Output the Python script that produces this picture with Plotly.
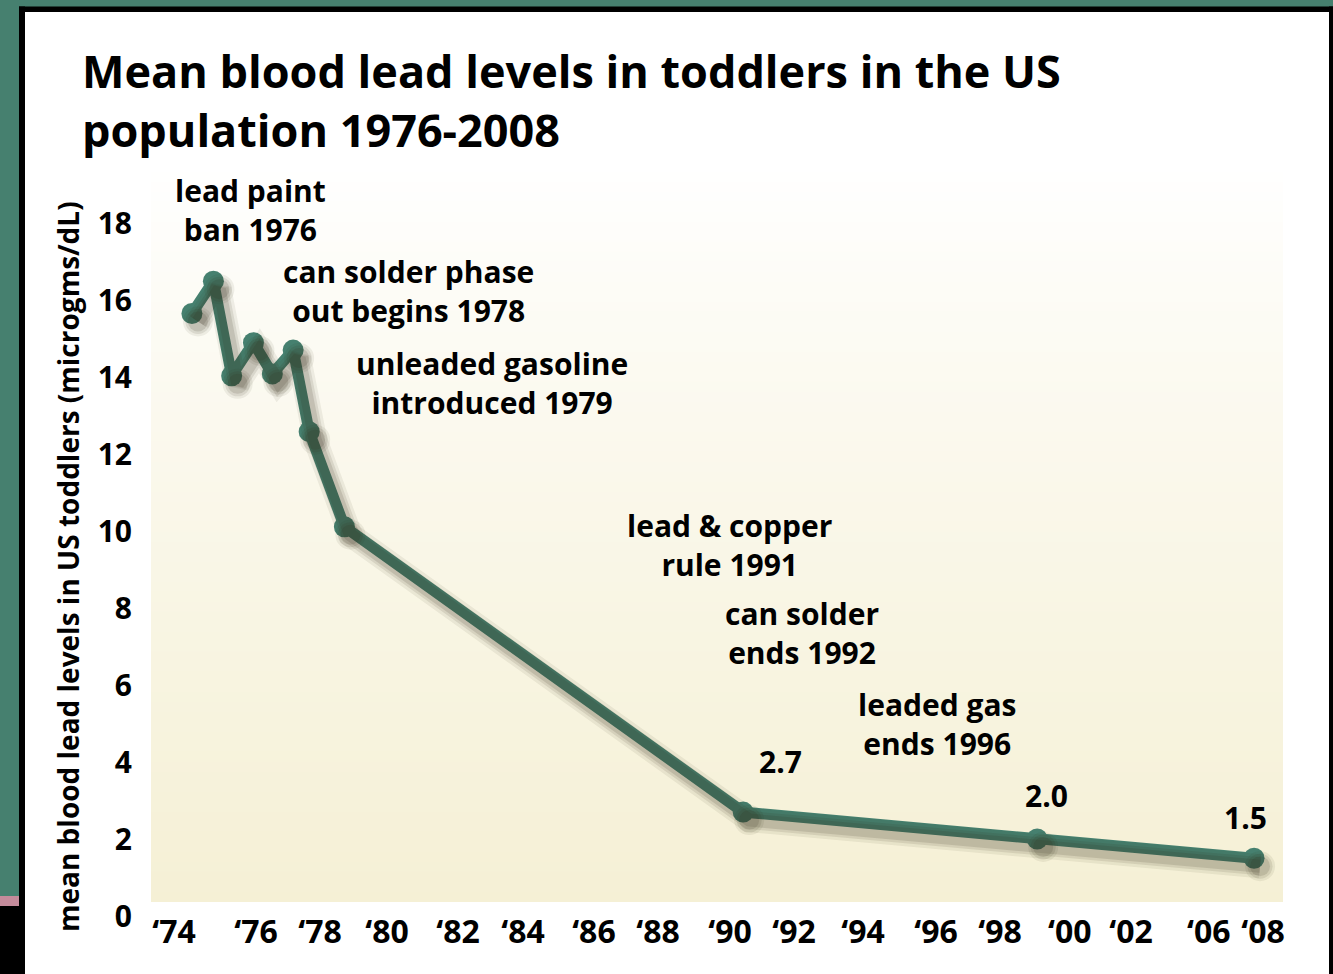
import plotly.graph_objects as go

# ---- data -------------------------------------------------------------
years = [1974.56, 1975.23, 1975.80, 1976.48, 1977.07, 1977.72, 1978.22,
         1979.32, 1991.77, 2000.95, 2007.72]
blood_lead = [15.65, 16.49, 14.03, 14.89, 14.08, 14.70, 12.58, 10.11,
              2.7, 2.0, 1.5]

tick_text = ["‘74", "‘76", "‘78", "‘80", "‘82", "‘84", "‘86", "‘88", "‘90",
             "‘92", "‘94", "‘96", "‘98", "‘00", "‘02", "‘06", "‘08"]
tick_pos = [1974.00, 1976.56, 1978.56, 1980.65, 1982.87, 1984.90, 1987.11,
            1989.11, 1991.36, 1993.36, 1995.51, 1997.79, 1999.79, 2001.97,
            2003.88, 2006.31, 2008.00]
y_ticks = [0, 2, 4, 6, 8, 10, 12, 14, 16, 18]

events = [
    ("lead paint<br>ban 1976", 250, 210),
    ("can solder phase<br>out begins 1978", 408, 291),
    ("unleaded gasoline<br>introduced 1979", 492, 383),
    ("lead &amp; copper<br>rule 1991", 729, 545),
    ("can solder<br>ends 1992", 802, 633),
    ("leaded gas<br>ends 1996", 937, 724),
]
value_labels = ["2.7", "2.0", "1.5"]

# ---- layout geometry --------------------------------------------------
W, H = 1333, 974
ML, MR, MT, MB = 151, 50, 180, 58
PW, PH = W - ML - MR, H - MT - MB
X0, X1 = 1973.282, 2008.624
Y0, Y1 = 0.0, PH / 38.5
KX = PW / (X1 - X0)
KY = PH / (Y1 - Y0)


def px(x):
    return (x - ML) / PW


def py(y):
    return (H - MB - y) / PH


TEAL = "#46806F"
FONT = "Open Sans"

fig = go.Figure()

# soft drop shadow under the line (same data on offset hidden axes)
dx, dy = 6, 8
for w, m, a in [(24, 30, 0.07), (18, 25, 0.10), (13, 20, 0.13)]:
    fig.add_trace(go.Scatter(
        x=years, y=blood_lead, mode="lines+markers",
        xaxis="x2", yaxis="y2",
        line=dict(color=f"rgba(45,40,20,{a})", width=w),
        marker=dict(size=m, color=f"rgba(45,40,20,{a})"),
        hoverinfo="skip", showlegend=False,
    ))

fig.add_trace(go.Scatter(
    x=years, y=blood_lead, mode="lines+markers",
    line=dict(color=TEAL, width=11),
    marker=dict(size=21, color=TEAL),
    showlegend=False,
))

shapes = []
# cream gradient behind the plot
top, bot = 172, 902
n = 73
for i in range(n):
    y_a = top + (bot - top) * i / n
    y_b = top + (bot - top) * (i + 1) / n
    t = ((i + 0.5) / n) ** 0.85
    r = round(255 + (245 - 255) * t)
    g = round(255 + (240 - 255) * t)
    b = round(255 + (213 - 255) * t)
    shapes.append(dict(type="rect", xref="paper", yref="paper",
                       x0=0, x1=1, y0=py(y_b), y1=py(y_a) + 0.0005,
                       line=dict(width=0), fillcolor=f"rgb({r},{g},{b})",
                       layer="below"))


def frame_rect(x0, y0, x1, y1, color):
    shapes.append(dict(type="rect", xref="paper", yref="paper",
                       x0=px(x0), x1=px(x1), y0=py(y1), y1=py(y0),
                       line=dict(width=0), fillcolor=color, layer="above"))


frame_rect(0, 0, W, 7, TEAL)
frame_rect(0, 0, 19, 896, TEAL)
frame_rect(0, 896, 19, 906, "#C48B9B")
frame_rect(0, 906, 19, H, "#000000")
frame_rect(19, 6.5, W, 12, "#000000")
frame_rect(19, 6.5, 25, H, "#000000")
frame_rect(1329, 6.5, W, H, "#000000")

annotations = []
# title
annotations.append(dict(text="Mean blood lead levels in toddlers in the US<br>"
                             "population 1976-2008",
                        xref="paper", yref="paper", x=px(80), y=py(100),
                        xanchor="left", yanchor="middle", align="left",
                        showarrow=False,
                        font=dict(family=FONT, size=45, color="black",
                                  weight=700)))
# y axis title
annotations.append(dict(text="mean blood lead levels in US toddlers (microgms/dL)",
                        xref="paper", yref="paper", x=px(68), y=py(567),
                        xanchor="center", yanchor="middle", showarrow=False,
                        textangle=-90,
                        font=dict(family=FONT, size=28, color="black",
                                  weight=700)))
# event notes
for txt, cx, cy in events:
    annotations.append(dict(text=txt, xref="paper", yref="paper",
                            x=px(cx), y=py(cy), xanchor="center",
                            yanchor="middle", showarrow=False,
                            font=dict(family=FONT, size=30, color="black",
                                      weight=700)))
# value labels on the last three points
shifts = [(37, 51), (9, 44), (-9, 41)]
for lbl, xv, yv, (sx, sy) in zip(value_labels, years[-3:], blood_lead[-3:],
                                 shifts):
    annotations.append(dict(text=lbl, x=xv, y=yv, xshift=sx, yshift=sy,
                            showarrow=False, xanchor="center",
                            yanchor="middle",
                            font=dict(family=FONT, size=30, color="black",
                                      weight=700)))

fig.update_layout(
    width=W, height=H,
    margin=dict(l=ML, r=MR, t=MT, b=MB, pad=0),
    paper_bgcolor="white", plot_bgcolor="rgba(0,0,0,0)",
    shapes=shapes, annotations=annotations,
    xaxis=dict(range=[X0, X1], tickvals=tick_pos, ticktext=tick_text,
               showgrid=False, zeroline=False, showline=False, ticks="",
               ticklabelstandoff=-6,
               tickfont=dict(family=FONT, size=32, color="black", weight=700)),
    yaxis=dict(range=[Y0, Y1], tickvals=y_ticks,
               showgrid=False, zeroline=False, showline=False, ticks="",
               ticklabelstandoff=18,
               tickfont=dict(family=FONT, size=30, color="black", weight=700)),
    xaxis2=dict(range=[X0 - dx / KX, X1 - dx / KX], overlaying="x",
                visible=False),
    yaxis2=dict(range=[Y0 + dy / KY, Y1 + dy / KY], overlaying="y",
                visible=False),
)

fig.write_html("out.html")
